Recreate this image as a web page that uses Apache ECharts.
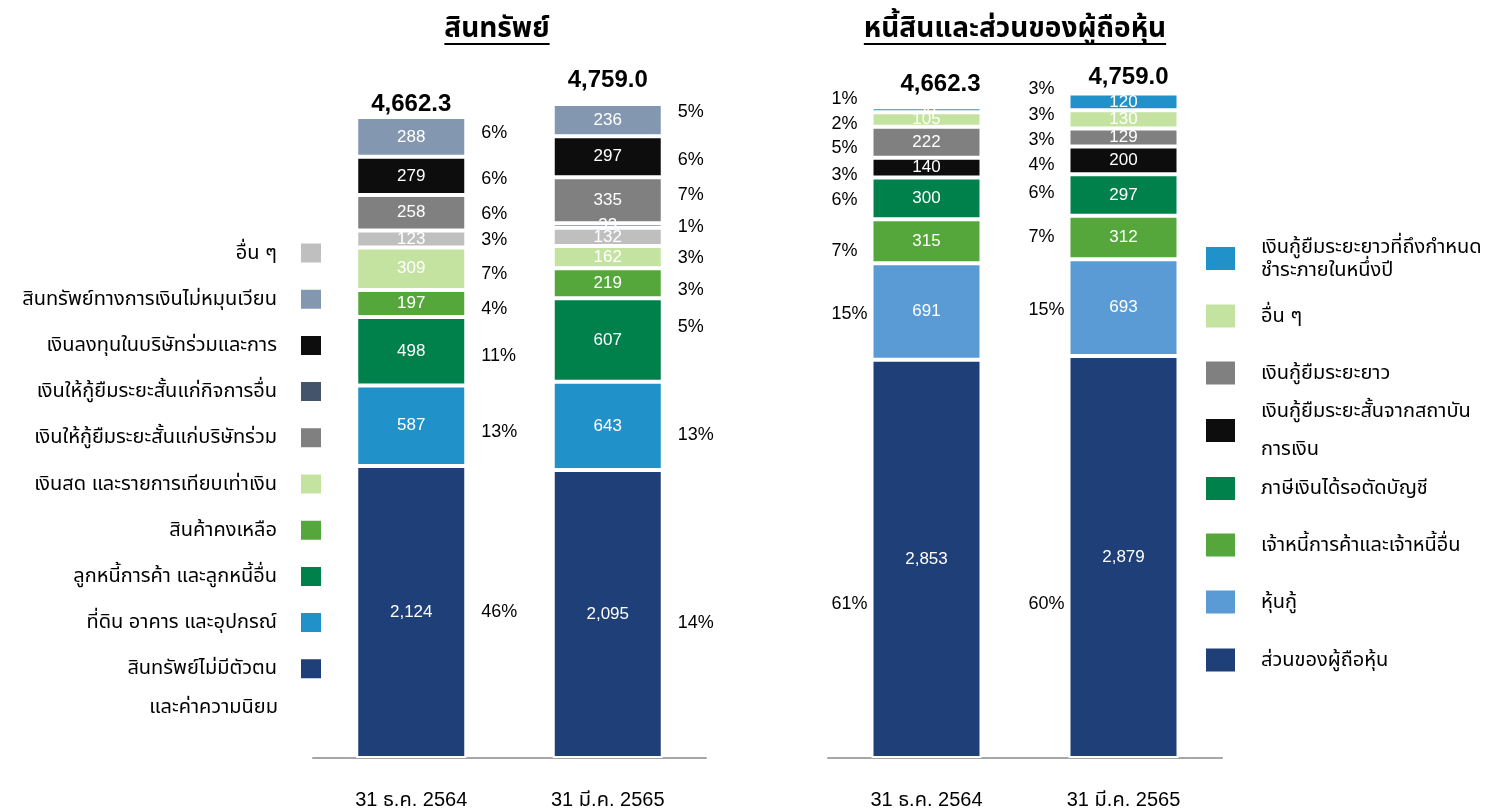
<!DOCTYPE html>
<html>
<head>
<meta charset="utf-8">
<script src="https://cdn.jsdelivr.net/npm/echarts@6/dist/echarts.min.js"></script>
<style>
html, body { margin: 0; padding: 0; background: #fff; }
#main { width: 1512px; height: 810px; }
</style>
</head>
<body>
<div id="main"></div>
<script>
var FONT = '"Liberation Sans", Arial, "Noto Sans Thai", "Noto Sans", sans-serif';

var periods = ['31 ธ.ค. 2564', '31 มี.ค. 2565'];

// สินทรัพย์ - ลำดับจากล่างขึ้นบน
var assetNames = ['สินทรัพย์ไม่มีตัวตน\nและค่าความนิยม', 'ที่ดิน อาคาร และอุปกรณ์', 'ลูกหนี้การค้า และลูกหนี้อื่น',
  'สินค้าคงเหลือ', 'เงินสด และรายการเทียบเท่าเงิน', 'อื่น ๆ', 'เงินให้กู้ยืมระยะสั้นแก่กิจการอื่น',
  'เงินให้กู้ยืมระยะสั้นแก่บริษัทร่วม', 'เงินลงทุนในบริษัทร่วมและการ', 'สินทรัพย์ทางการเงินไม่หมุนเวียน'];
var assetDec = [2124, 587, 498, 197, 309, 123, 0, 258, 279, 288];
var assetMar = [2095, 643, 607, 219, 162, 132, 33, 335, 297, 236];
var assetPctDec = ['46%', '13%', '11%', '4%', '7%', '3%', '', '6%', '6%', '6%'];
var assetPctMar = ['14%', '13%', '5%', '3%', '3%', '', '1%', '7%', '6%', '5%'];
var assetTotals = ['4,662.3', '4,759.0'];
var assetLegendOrder = [5, 9, 8, 6, 7, 4, 3, 2, 1, 0];

// หนี้สินและส่วนของผู้ถือหุ้น - ลำดับจากล่างขึ้นบน
var liabNames = ['ส่วนของผู้ถือหุ้น', 'หุ้นกู้', 'เจ้าหนี้การค้าและเจ้าหนี้อื่น', 'ภาษีเงินได้รอตัดบัญชี',
  'เงินกู้ยืมระยะสั้นจากสถาบัน\nการเงิน', 'เงินกู้ยืมระยะยาว', 'อื่น ๆ', 'เงินกู้ยืมระยะยาวที่ถึงกำหนด\nชำระภายในหนึ่งปี'];
var liabDec = [2853, 691, 315, 300, 140, 222, 105, 36];
var liabMar = [2879, 693, 312, 297, 200, 129, 130, 120];
var liabPctDec = ['61%', '15%', '7%', '6%', '3%', '5%', '2%', '1%'];
var liabPctMar = ['60%', '15%', '7%', '6%', '4%', '3%', '3%', '3%'];
var liabTotals = ['4,662.3', '4,759.0'];
var liabLegendOrder = [7, 6, 5, 4, 3, 2, 1, 0];

var assetColors = ['#1e3f77', '#2191c9', '#00804b', '#56a73b', '#c5e3a0', '#bfbfbf', '#44546a', '#808080', '#0d0d0d', '#8497b0'];
var liabColors = ['#1e3f77', '#5b9bd5', '#56a73b', '#00804b', '#0d0d0d', '#808080', '#c5e3a0', '#2191c9'];

// ปรับตำแหน่งป้าย % ให้ตรงกับภาพ
var assetPctNudge = [[0, 6, 5, 6, 5, 1, 0, 1, 3, -4], [9, 9, -13, 7, 1, 0, 2, -5, 3, -8]];
var liabPctNudge = [[45, 3, 10, 2, 7, 6, 4, -11], [47, 2, -1, -2, 5, 3, -4, -13]];
var assetTotalNudge = [[0, 4], [0, -7]];
var liabTotalNudge = [[14, -6], [5, 1]];

function fmt(v) { return v ? v.toLocaleString('en-US') : ''; }

function buildSeries(prefix, axis, names, colors, vals, pcts, nudge, totals, totalNudge, side, dist) {
  var out = [];
  names.forEach(function (n, i) {
    out.push({
      type: 'bar', name: prefix + n, xAxisIndex: axis, yAxisIndex: axis,
      stack: prefix + 'v', barWidth: 110, barGap: '-100%',
      itemStyle: { color: colors[i], borderColor: '#fff', borderWidth: 2 },
      label: { show: true, position: 'inside', color: '#fff', fontSize: 17, fontFamily: FONT,
        formatter: function (p) { return fmt(p.value); } },
      data: [vals[0][i], vals[1][i]]
    });
  });
  names.forEach(function (n, i) {
    out.push({
      type: 'bar', name: prefix + 'pct' + i, xAxisIndex: axis, yAxisIndex: axis,
      stack: prefix + 'p', barWidth: 110, barGap: '-100%', silent: true,
      itemStyle: { color: 'rgba(0,0,0,0)' },
      label: { show: true, position: side, distance: dist, align: 'left', color: '#000', fontSize: 18, fontFamily: FONT,
        formatter: function (p) { return pcts[p.dataIndex][i]; } },
      data: [0, 1].map(function (k) { return { value: vals[k][i], label: { offset: [0, nudge[k][i]] } }; })
    });
  });
  out.push({
    type: 'bar', name: prefix + 'total', xAxisIndex: axis, yAxisIndex: axis,
    stack: prefix + 'v', barWidth: 110, barGap: '-100%', silent: true,
    itemStyle: { color: 'rgba(0,0,0,0)' },
    label: { show: true, position: 'top', distance: 5, color: '#000', fontSize: 24, fontWeight: 'bold', fontFamily: FONT,
      formatter: function (p) { return totals[p.dataIndex]; } },
    data: [0, 1].map(function (k) { return { value: 0, label: { offset: totalNudge[k] } }; })
  });
  return out;
}

var series = buildSeries('L:', 0, assetNames, assetColors, [assetDec, assetMar], [assetPctDec, assetPctMar],
  assetPctNudge, assetTotals, assetTotalNudge, 'right', 15)
  .concat(buildSeries('R:', 1, liabNames, liabColors, [liabDec, liabMar], [liabPctDec, liabPctMar],
  liabPctNudge, liabTotals, liabTotalNudge, 'left', 40));

function xAxisFor(i) {
  return {
    type: 'category', gridIndex: i, data: periods,
    axisLine: { lineStyle: { color: '#a6a6a6', width: 2 } },
    axisTick: { show: false },
    axisLabel: { margin: 32, fontSize: 20, color: '#000', fontFamily: FONT }
  };
}
function yAxisFor(i) { return { type: 'value', gridIndex: i, min: 0, max: 5000, show: false }; }

var legends = [];
var LEGEND_FS = 20;

// คำอธิบายฝั่งซ้าย: ข้อความชิดขวา ไอคอนอยู่ขวา
assetLegendOrder.forEach(function (idx, row) {
  legends.push({
    orient: 'vertical', align: 'right', right: 1189, top: 253 + row * 46.2 - 11.5, padding: 0,
    itemWidth: 22, itemHeight: 21, icon: 'rect', selectedMode: false,
    data: ['L:' + assetNames[idx]],
    formatter: function (n) { return n.slice(2).split('\n')[0]; },
    textStyle: { fontSize: LEGEND_FS, color: '#000', lineHeight: 23, padding: [0, 18, 0, 0], fontFamily: FONT }
  });
});

// คำอธิบายฝั่งขวา (รายการสองบรรทัดเลื่อนข้อความลงเล็กน้อย)
var liabIconCenters = [258.5, 315, 372, 430.5, 487.5, 544, 601, 659];
var liabLineHeights = [23, 23, 23, 38, 23, 23, 23, 23];
liabLegendOrder.forEach(function (idx, row) {
  var name = liabNames[idx];
  var lines = name.split('\n').length;
  var lh = liabLineHeights[row];
  var padTop = lines > 1 ? 6 : 0;
  legends.push({
    orient: 'vertical', align: 'left', left: 1204,
    top: liabIconCenters[row] - Math.max(12.5, (lines * lh + padTop) / 2), padding: 0,
    itemWidth: 31, itemHeight: 25, icon: 'rect', selectedMode: false,
    data: ['R:' + name],
    formatter: function (n) { return n.slice(2); },
    textStyle: { fontSize: LEGEND_FS, color: '#000', lineHeight: lh, padding: [padTop, 0, 0, 20], fontFamily: FONT }
  });
});

var ctx = document.createElement('canvas').getContext('2d');
function textWidth(t, font) { ctx.font = font; return ctx.measureText(t).width; }
var titleFont = 'bold 28px ' + FONT;
var titles = [{ text: 'สินทรัพย์', x: 497 }, { text: 'หนี้สินและส่วนของผู้ถือหุ้น', x: 1015 }];
var graphics = [];
titles.forEach(function (t) {
  var w = textWidth(t.text, titleFont);
  graphics.push({ type: 'text', x: t.x, y: 29,
    style: { text: t.text, font: titleFont, fill: '#000', align: 'center', verticalAlign: 'middle' } });
  graphics.push({ type: 'line', shape: { x1: t.x - w / 2, y1: 44, x2: t.x + w / 2, y2: 44 },
    style: { stroke: '#000', lineWidth: 2 } });
});
graphics.push({ type: 'text', x: 278, y: 707,
  style: { text: assetNames[0].split('\n')[1], font: LEGEND_FS + 'px ' + FONT, fill: '#000', align: 'right', verticalAlign: 'middle' } });

var chart = echarts.init(document.getElementById('main'));
chart.setOption({
  animation: false,
  textStyle: { fontFamily: FONT },
  grid: [
    { left: 313, top: 70.8, width: 393, height: 688.2 },
    { left: 828, top: 60, width: 394, height: 699 }
  ],
  xAxis: [xAxisFor(0), xAxisFor(1)],
  yAxis: [yAxisFor(0), yAxisFor(1)],
  legend: legends,
  graphic: graphics,
  series: series
});
</script>
</body>
</html>
